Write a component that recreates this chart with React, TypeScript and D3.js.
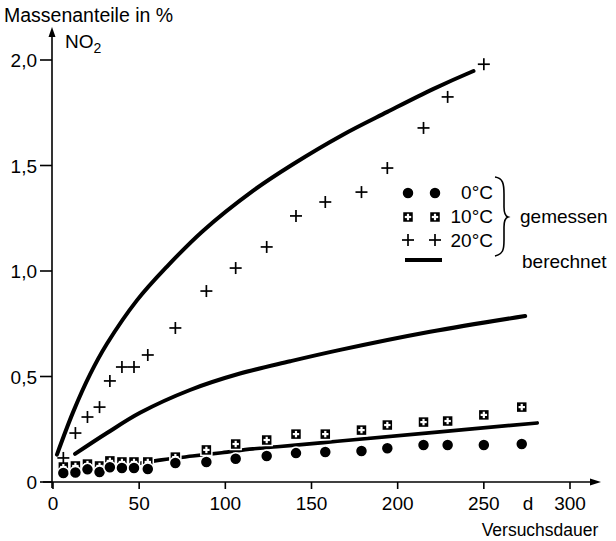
import React from "react";
import * as d3 from "d3";

const days = [6, 13, 20, 27, 33, 40, 47, 55, 71, 89, 106, 124, 141, 158, 179, 194, 215, 229, 250, 272];
const meas0 = [0.043, 0.045, 0.06, 0.047, 0.07, 0.066, 0.066, 0.062, 0.09, 0.095, 0.11, 0.123, 0.137, 0.142, 0.147, 0.16, 0.175, 0.175, 0.175, 0.18];
const meas10 = [0.071, 0.076, 0.085, 0.076, 0.1, 0.095, 0.095, 0.095, 0.118, 0.152, 0.18, 0.199, 0.227, 0.227, 0.246, 0.27, 0.284, 0.289, 0.318, 0.355];
const meas20 = [0.114, 0.232, 0.308, 0.355, 0.479, 0.545, 0.545, 0.602, 0.73, 0.905, 1.014, 1.114, 1.261, 1.327, 1.374, 1.488, 1.678, 1.825, 1.98];

const calc20Days = [2.3, 11.6, 21.5, 31.3, 48.8, 66, 87, 116, 139, 168, 194, 220.5, 244];
const calc20 = [0.13, 0.33, 0.51, 0.655, 0.862, 1.02, 1.19, 1.38, 1.505, 1.645, 1.754, 1.862, 1.948];
const calc10Days = [12.8, 31.3, 50.5, 79.5, 108.5, 137.6, 166.6, 218.8, 274];
const calc10 = [0.133, 0.232, 0.328, 0.436, 0.514, 0.572, 0.626, 0.712, 0.787];
const calc0Days = [5, 35, 63, 81, 98, 116, 130, 152, 165, 281];
const calc0 = [0.045, 0.07, 0.105, 0.123, 0.139, 0.157, 0.167, 0.183, 0.193, 0.28];

const xTicks = [0, 50, 100, 150, 200, 250, 300];
const yTicks = [0, 0.5, 1.0, 1.5, 2.0];
const yTickLabels = ["0", "0,5", "1,0", "1,5", "2,0"];
const legendTemps = ["0°C", "10°C", "20°C"];

const FONT = "'Liberation Sans', Arial, Helvetica, sans-serif";

export default function App() {
  const x = d3.scaleLinear().domain([0, 300]).range([53, 570]);
  const y = d3.scaleLinear().domain([0, 2]).range([482, 60]);
  const line = d3
    .line<[number, number]>()
    .x((d) => x(d[0]))
    .y((d) => y(d[1]))
    .curve(d3.curveCatmullRom.alpha(0.5));

  const mk = (ds: number[], vs: number[]) => vs.map((v, i) => [ds[i], v] as [number, number]);

  const circle = (cx: number, cy: number, key: string) => (
    <circle key={key} cx={cx} cy={cy} r={6} fill="#000" stroke="#fff" strokeWidth={1.5} />
  );
  const square = (cx: number, cy: number, key: string) => (
    <g key={key}>
      <rect x={cx - 5.5} y={cy - 5.5} width={11} height={11} fill="#000" stroke="#fff" strokeWidth={1.5} />
      <line x1={cx - 3.2} x2={cx + 3.2} y1={cy} y2={cy} stroke="#fff" strokeWidth={2.2} />
      <line x1={cx} x2={cx} y1={cy - 3.2} y2={cy + 3.2} stroke="#fff" strokeWidth={2.2} />
    </g>
  );
  const plus = (cx: number, cy: number, key: string) => (
    <g key={key} stroke="#000" strokeWidth={1.7}>
      <line x1={cx - 6} x2={cx + 6} y1={cy} y2={cy} />
      <line x1={cx} x2={cx} y1={cy - 6} y2={cy + 6} />
    </g>
  );

  return (
    <svg
      width={616}
      height={541}
      style={{ position: "absolute", left: 0, top: 0, background: "#fff" }}
      fontFamily={FONT}
    >
      <rect x={0} y={0} width={616} height={541} fill="#fff" />
      {/* axes */}
      <line x1={52} x2={52} y1={32} y2={488} stroke="#000" strokeWidth={1.6} />
      <path d="M52,27 L48.5,37 L55.5,37 Z" fill="#000" />
      <line x1={43} x2={594} y1={482} y2={482} stroke="#000" strokeWidth={1.6} />
      <path d="M601,482 L590,478.5 L590,485.5 Z" fill="#000" />
      {xTicks.map((t) => (
        <g key={"xt" + t}>
          <line x1={x(t)} x2={x(t)} y1={482} y2={489} stroke="#000" strokeWidth={1.6} />
          <text x={x(t)} y={510} textAnchor="middle" fontSize={19}>
            {t}
          </text>
        </g>
      ))}
      <text x={528} y={510} textAnchor="middle" fontSize={19}>d</text>
      <text x={540} y={536} textAnchor="middle" fontSize={17.5}>Versuchsdauer</text>
      {yTicks.map((t, i) => (
        <g key={"yt" + t}>
          <line x1={40} x2={52} y1={y(t)} y2={y(t)} stroke="#000" strokeWidth={1.6} />
          <text x={37} y={y(t) + 7} textAnchor="end" fontSize={19}>
            {yTickLabels[i]}
          </text>
        </g>
      ))}
      <text x={4} y={22} fontSize={19.5}>Massenanteile in %</text>
      <text x={65} y={48} fontSize={19}>
        NO<tspan fontSize={14} dy={5}>2</tspan>
      </text>

      {/* calculated lines */}
      <path d={line(mk(calc20Days, calc20)) || ""} fill="none" stroke="#000" strokeWidth={4} strokeLinecap="round" />
      <path d={line(mk(calc10Days, calc10)) || ""} fill="none" stroke="#000" strokeWidth={4} strokeLinecap="round" />
      <path d={line(mk(calc0Days, calc0)) || ""} fill="none" stroke="#000" strokeWidth={3.6} strokeLinecap="round" />

      {/* measured */}
      {meas10.map((v, i) => square(x(days[i]), y(v), "s" + i))}
      {meas0.map((v, i) => circle(x(days[i]), y(v), "c" + i))}
      {meas20.map((v, i) => plus(x(days[i]), y(v), "p" + i))}

      {/* legend */}
      {circle(408, 193, "lc1")}
      {circle(435, 193, "lc2")}
      {square(408, 217, "ls1")}
      {square(435, 217, "ls2")}
      {plus(408, 240, "lp1")}
      {plus(435, 240, "lp2")}
      {legendTemps.map((t, i) => (
        <text key={t} x={493} y={[199, 223, 247][i]} textAnchor="end" fontSize={19}>
          {t}
        </text>
      ))}
      <path
        d="M495,177 C503,178 504,184 504,194 L504,207 C504,213 505,216 508,217 C505,218 504,221 504,227 L504,240 C504,250 503,254 495,256"
        fill="none"
        stroke="#000"
        strokeWidth={1.6}
      />
      <text x={520} y={223} fontSize={19}>gemessen</text>
      <line x1={405} x2={442} y1={260} y2={260} stroke="#000" strokeWidth={4} />
      <text x={522} y={268} fontSize={19}>berechnet</text>
    </svg>
  );
}
